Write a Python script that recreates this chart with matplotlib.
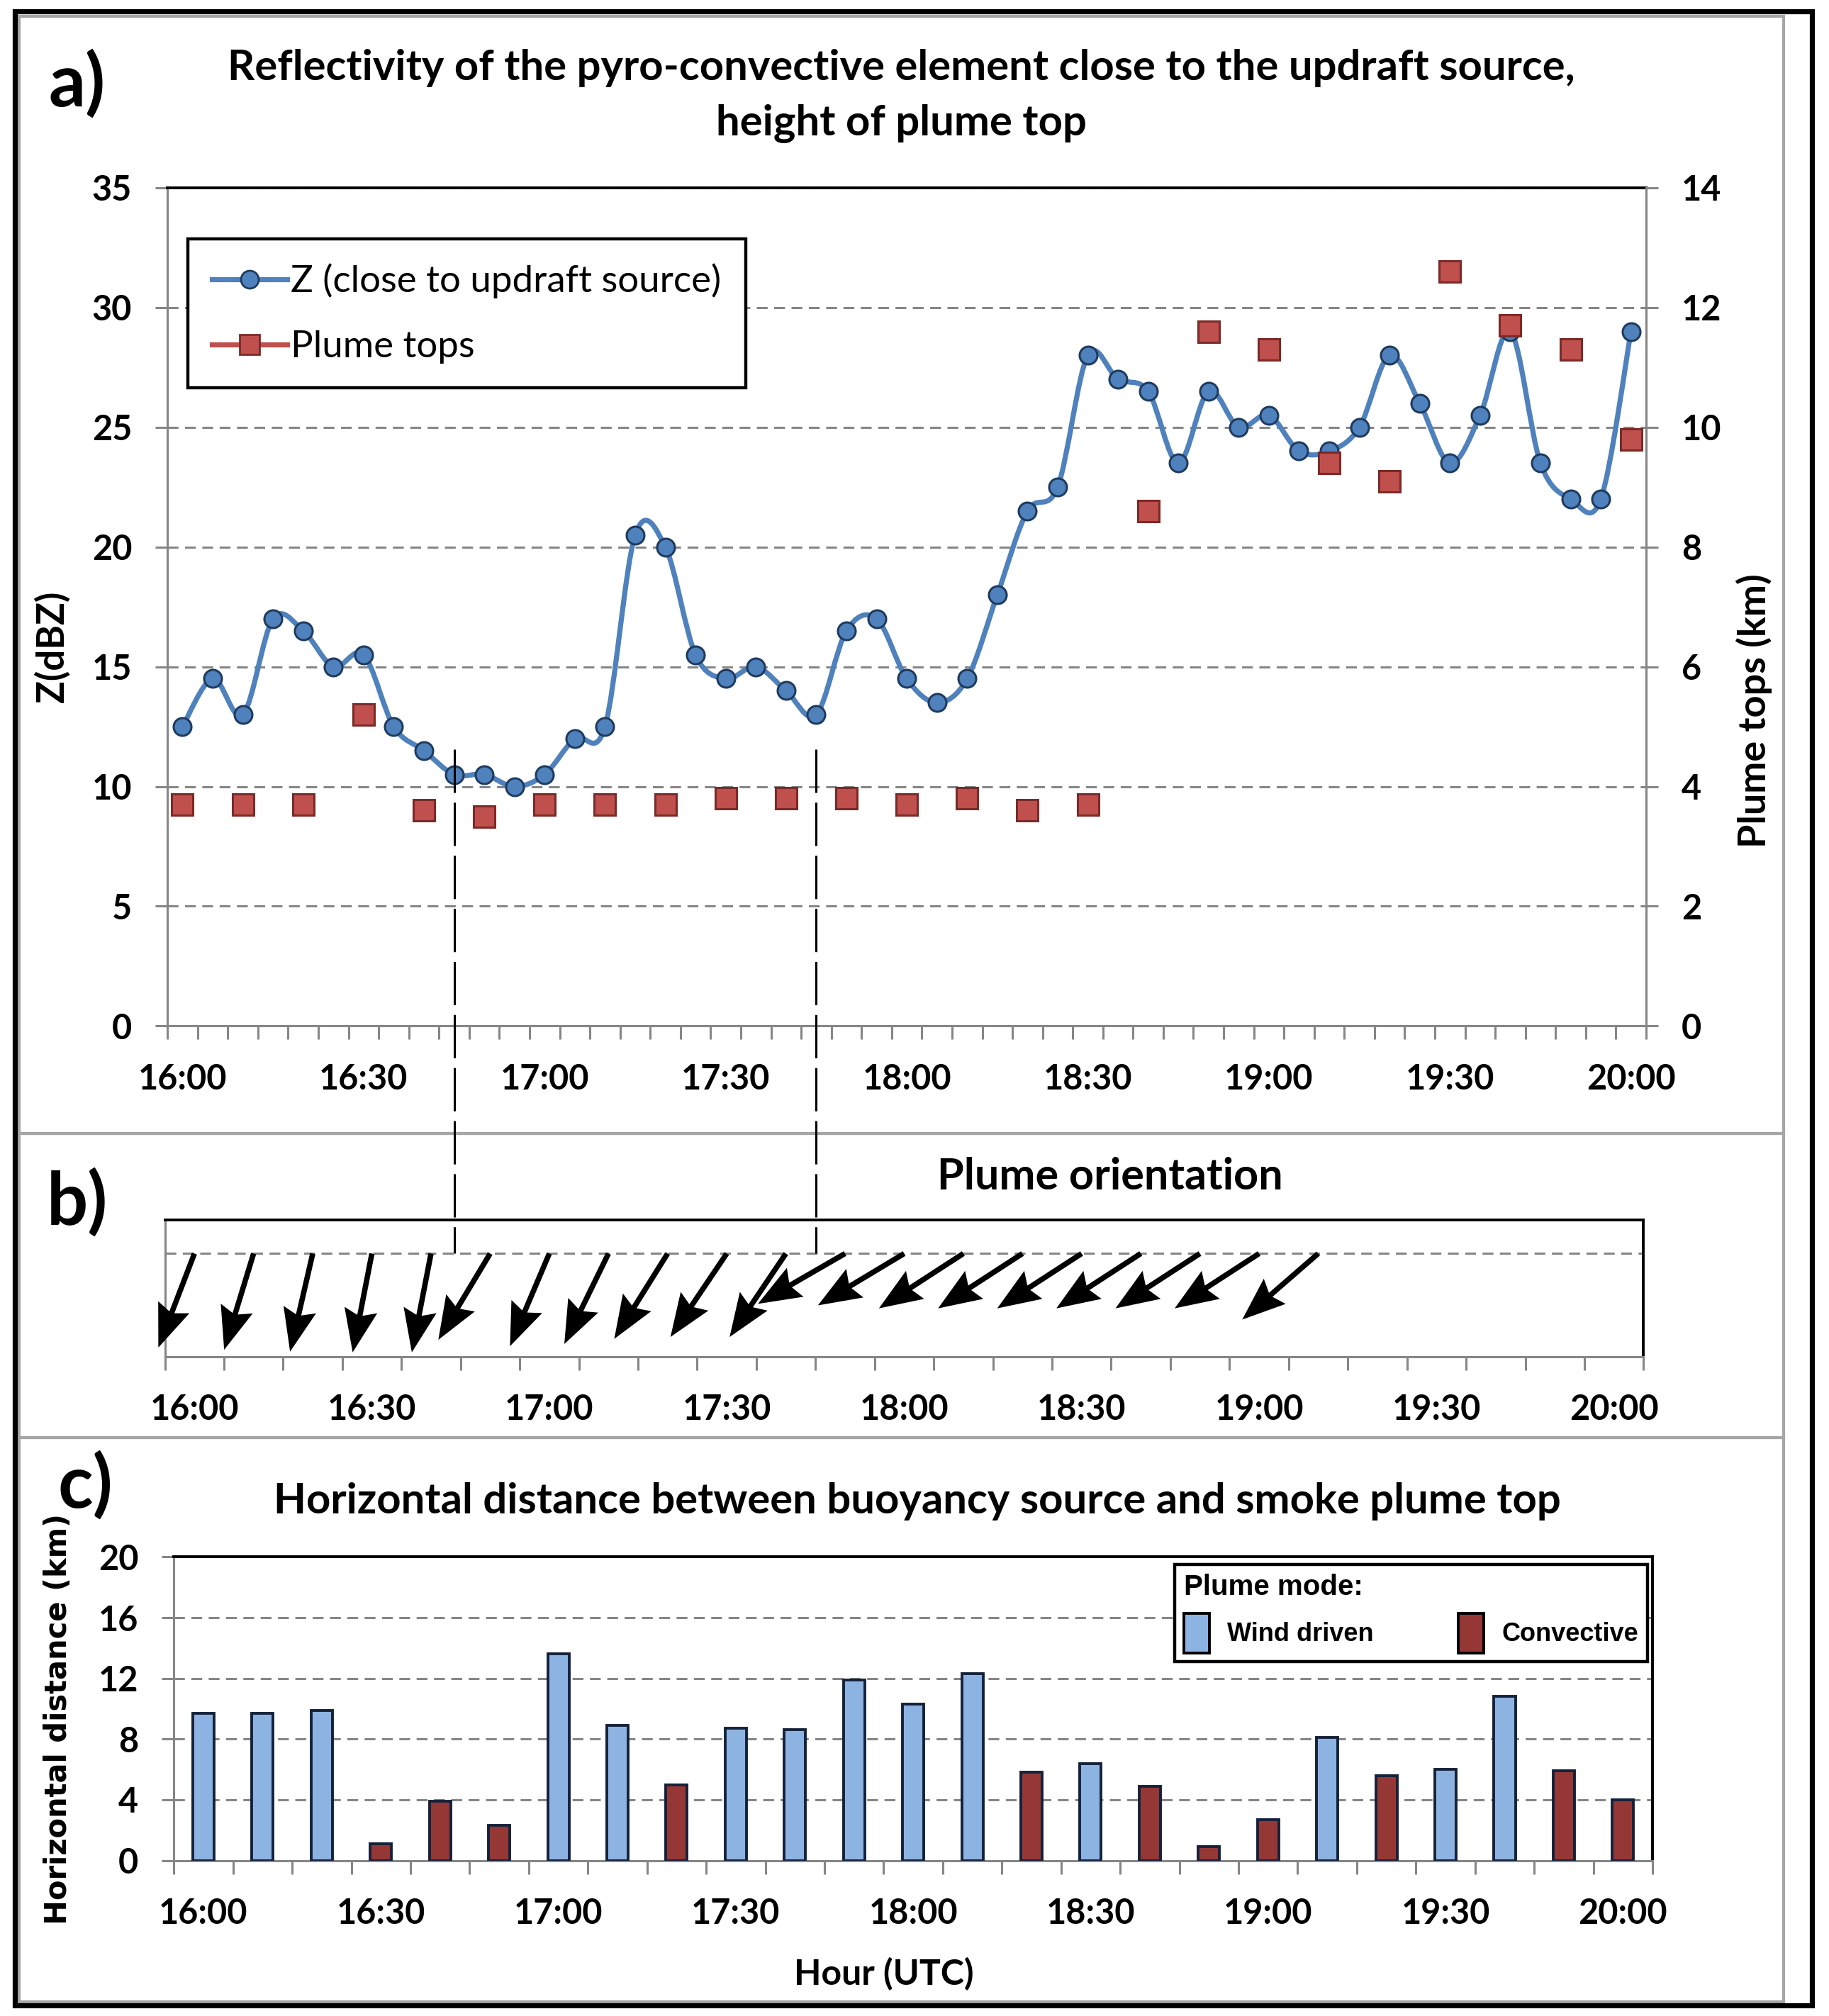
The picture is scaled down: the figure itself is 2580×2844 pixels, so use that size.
import matplotlib.pyplot as plt
import numpy as np
from matplotlib.path import Path
from matplotlib.patches import PathPatch, Rectangle, Patch
from matplotlib.lines import Line2D

plt.rcParams['font.family'] = ['Lato', 'DejaVu Sans']
plt.rcParams['font.weight'] = 'bold'

# panel a: reflectivity close to updraft source, every 5 min
times_a = ['16:00', '16:05', '16:10', '16:15', '16:20', '16:25', '16:30', '16:35',
           '16:40', '16:45', '16:50', '16:55', '17:00', '17:05', '17:10', '17:15',
           '17:20', '17:25', '17:30', '17:35', '17:40', '17:45', '17:50', '17:55',
           '18:00', '18:05', '18:10', '18:15', '18:20', '18:25', '18:30', '18:35',
           '18:40', '18:45', '18:50', '18:55', '19:00', '19:05', '19:10', '19:15',
           '19:20', '19:25', '19:30', '19:35', '19:40', '19:45', '19:50', '19:55',
           '20:00']
z_dbz = [12.5, 14.5, 13.0, 17.0, 16.5, 15.0, 15.5, 12.5,
         11.5, 10.5, 10.5, 10.0, 10.5, 12.0, 12.5, 20.5,
         20.0, 15.5, 14.5, 15.0, 14.0, 13.0, 16.5, 17.0,
         14.5, 13.5, 14.5, 18.0, 21.5, 22.5, 28.0, 27.0,
         26.5, 23.5, 26.5, 25.0, 25.5, 24.0, 24.0, 25.0,
         28.0, 26.0, 23.5, 25.5, 29.0, 23.5, 22.0, 22.0,
         29.0]

# plume tops (km), every 10 min
times_c = ['16:00', '16:10', '16:20', '16:30', '16:40', '16:50', '17:00', '17:10',
           '17:20', '17:30', '17:40', '17:50', '18:00', '18:10', '18:20', '18:30',
           '18:40', '18:50', '19:00', '19:10', '19:20', '19:30', '19:40', '19:50',
           '20:00']
plume_top_km = [3.7, 3.7, 3.7, 5.2, 3.6, 3.5, 3.7, 3.7,
                3.7, 3.8, 3.8, 3.8, 3.7, 3.8, 3.6, 3.7,
                8.6, 11.6, 11.3, 9.4, 9.1, 12.6, 11.7, 11.3,
                9.8]

# panel b: plume orientation (direction the plume points to, deg from north)
times_b = ['16:00', '16:10', '16:20', '16:30', '16:40', '16:50', '17:00', '17:10',
           '17:20', '17:30', '17:40', '17:50', '18:00', '18:10', '18:20', '18:30',
           '18:40', '18:50', '19:00', '19:10']
plume_dir_deg = [201, 197, 193, 191, 191, 211, 203, 206,
                 212, 214, 214, 240, 239, 237, 237, 237,
                 237, 237, 237, 229]

# panel c: horizontal distance buoyancy source - plume top
hdist_km = [9.7, 9.7, 9.9, 1.1, 3.9, 2.3, 13.6, 8.9,
            5.0, 8.7, 8.6, 11.9, 10.3, 12.3, 5.8, 6.4,
            4.9, 0.9, 2.7, 8.1, 5.6, 6.0, 10.8, 5.9,
            4.0]
plume_mode = ['W', 'W', 'W', 'C', 'C', 'C', 'W', 'W',
              'C', 'W', 'W', 'W', 'W', 'W', 'C', 'W',
              'C', 'C', 'C', 'W', 'C', 'W', 'W', 'C',
              'C']

blue = '#4F81BD'
navy = '#1F3B5E'
red = '#C0504D'
darkred = '#7B2A28'
wind_col = '#8DB3E2'
conv_col = '#953735'
grey = '#868686'
dash = (0, (5, 3))

# layout in reference pixels
W, H = 1420.0, 1568.0


def fx(x):
    return x / W


def fy(y):
    return 1 - y / H


def box(x0, y0, x1, y1):
    return [fx(x0), fy(y1), (x1 - x0) / W, (y1 - y0) / H]


def smooth_path(x, y):
    # Excel style smoothed line (Catmull-Rom as cubic Bezier)
    x = np.asarray(x, float)
    y = np.asarray(y, float)
    n = len(x)
    verts = [(x[0], y[0])]
    codes = [Path.MOVETO]
    for i in range(n - 1):
        a = i - 1 if i > 0 else i
        d = i + 2 if i + 2 < n else i + 1
        c1 = (x[i] + (x[i + 1] - x[a]) / 6, y[i] + (y[i + 1] - y[a]) / 6)
        c2 = (x[i + 1] - (x[d] - x[i]) / 6, y[i + 1] - (y[d] - y[i]) / 6)
        verts += [c1, c2, (x[i + 1], y[i + 1])]
        codes += [Path.CURVE4] * 3
    return Path(verts, codes)


def cat_axis(ax, labels, step):
    n = len(labels)
    ax.set_xlim(-0.5, n - 0.5)
    ax.set_xticks(np.arange(0, n, step))
    ax.set_xticklabels(labels[::step])
    ax.set_xticks(np.arange(-0.5, n), minor=True)
    ax.tick_params(axis='x', which='major', length=0, pad=19, labelsize=17.5)
    ax.tick_params(axis='x', which='minor', length=7, width=1.1, color=grey)


fig = plt.figure(figsize=(12.9, 14.22), dpi=200)

# ---------------- panel a
ax_a = fig.add_axes(box(130, 146, 1278, 798))
xa = np.arange(len(times_a))
ax_a.add_patch(PathPatch(smooth_path(xa, z_dbz), fill=False, ec=blue, lw=2.6, zorder=3))
ax_a.plot(xa, z_dbz, ls='none', marker='o', ms=9, mfc=blue, mec=navy, mew=1.1, zorder=4)
cat_axis(ax_a, times_a, 6)
ax_a.set_ylim(0, 35)
ax_a.set_yticks(range(0, 36, 5))
ax_a.tick_params(axis='y', length=6, width=1.1, color=grey, pad=12, labelsize=17.5)
ax_a.grid(axis='y', color=grey, lw=1.1, ls=dash, zorder=0)
for s in ['left', 'bottom', 'right']:
    ax_a.spines[s].set_color(grey)
    ax_a.spines[s].set_linewidth(1.1)
ax_a.spines['top'].set_color('black')
ax_a.spines['top'].set_linewidth(1.4)

ax_a2 = ax_a.twinx()
xt = [times_a.index(t) for t in times_c]
ax_a2.plot(xt, plume_top_km, ls='none', marker='s', ms=10.5, mfc=red, mec=darkred, mew=1.1, zorder=5)
ax_a2.set_ylim(0, 14)
ax_a2.set_yticks(range(0, 15, 2))
ax_a2.tick_params(axis='y', length=6, width=1.1, color=grey, pad=12, labelsize=17.5)
for s in ['left', 'bottom', 'top']:
    ax_a2.spines[s].set_visible(False)
ax_a2.spines['right'].set_color(grey)
ax_a2.spines['right'].set_linewidth(1.1)

handles = [Line2D([], [], color=blue, lw=2.6, marker='o', ms=9, mfc=blue, mec=navy),
           Line2D([], [], color=red, lw=2.6, marker='s', ms=10, mfc=red, mec=darkred)]
leg = ax_a2.legend(handles, ['Z (close to updraft source)', 'Plume tops'],
                   loc='upper left', bbox_to_anchor=(0.0139, 0.9387), borderaxespad=0,
                   prop=dict(weight='normal', size=19), frameon=True, fancybox=False,
                   edgecolor='black', framealpha=1, handlelength=2.0, handletextpad=0.1,
                   labelspacing=0.85, borderpad=0.65)
leg.get_frame().set_linewidth(1.6)

fig.text(fx(700), fy(53), 'Reflectivity of the pyro-convective element close to the updraft source,',
         ha='center', va='center', size=21.5)
fig.text(fx(700), fy(96), 'height of plume top', ha='center', va='center', size=21.5)
fig.text(fx(40), fy(503), 'Z(dBZ)', rotation=90, ha='center', va='center', size=19)
fig.text(fx(1362), fy(553), 'Plume tops (km)', rotation=90, ha='center', va='center', size=19.5)
fig.text(fx(60), fy(65), 'a)', ha='center', va='center', size=37)

# ---------------- panel b
ax_b = fig.add_axes(box(128, 949, 1276, 1055))
cat_axis(ax_b, times_c, 3)
ax_b.set_ylim(0, 1)
ax_b.set_yticks([])
y_line = 0.755
ax_b.axhline(y_line, color=grey, lw=1.1, ls=dash, zorder=1)
xb = [times_c.index(t) for t in times_b]
ang = np.radians(plume_dir_deg)
L = 0.71  # arrow length, inches
ax_b.quiver(xb, [y_line] * len(xb), L * np.sin(ang), L * np.cos(ang), angles='uv',
            scale_units='inches', scale=1, units='inches', width=0.038, headwidth=6.2,
            headlength=8.0, headaxislength=7.0, pivot='tail', color='black', zorder=3,
            clip_on=False)
for s in ['left', 'bottom']:
    ax_b.spines[s].set_color(grey)
    ax_b.spines[s].set_linewidth(1.1)
for s in ['top', 'right']:
    ax_b.spines[s].set_color('black')
    ax_b.spines[s].set_linewidth(1.4)
fig.text(fx(862), fy(915), 'Plume orientation', ha='center', va='center', size=22)
fig.text(fx(60), fy(935), 'b)', ha='center', va='center', size=37)

# ---------------- panel c
ax_c = fig.add_axes(box(135, 1211, 1283, 1447))
xc = np.arange(len(times_c))
cols = [wind_col if m == 'W' else conv_col for m in plume_mode]
ax_c.bar(xc, hdist_km, width=0.36, color=cols, edgecolor='#14213A', lw=1.4, zorder=3)
cat_axis(ax_c, times_c, 3)
ax_c.set_ylim(0, 20)
ax_c.set_yticks(range(0, 21, 4))
ax_c.tick_params(axis='y', length=6, width=1.1, color=grey, pad=12, labelsize=17.5)
ax_c.grid(axis='y', color=grey, lw=1.1, ls=dash, zorder=0)
for s in ['left', 'bottom']:
    ax_c.spines[s].set_color(grey)
    ax_c.spines[s].set_linewidth(1.1)
for s in ['top', 'right']:
    ax_c.spines[s].set_color('black')
    ax_c.spines[s].set_linewidth(1.4)
arial = ['Liberation Sans', 'DejaVu Sans']
leg_c = ax_c.legend([Patch(fc=wind_col, ec='black', lw=1.4), Patch(fc=conv_col, ec='black', lw=1.4)],
                    ['Wind driven', 'Convective'], ncol=2, title='Plume mode:',
                    loc='upper right', bbox_to_anchor=(0.9965, 0.975), borderaxespad=0,
                    prop=dict(family=arial, weight='bold', size=13),
                    title_fontproperties=dict(family=arial, weight='bold', size=14.5),
                    alignment='left', frameon=True, fancybox=False, edgecolor='black',
                    framealpha=1, handlelength=1.0, handleheight=2.0, columnspacing=3.3,
                    handletextpad=0.7, borderpad=0.35)
leg_c.get_frame().set_linewidth(1.6)
fig.text(fx(712), fy(1168), 'Horizontal distance between buoyancy source and smoke plume top',
         ha='center', va='center', size=21.5)
fig.text(fx(686), fy(1535), 'Hour (UTC)', ha='center', va='center', size=18)
fig.text(fx(45), fy(1337), 'Horizontal distance (km)', rotation=90, ha='center', va='center',
         size=15, family='DejaVu Sans')
fig.text(fx(66), fy(1155), 'c)', ha='center', va='center', size=37)

# ---------------- dashed connector lines (16:45 and 17:45)
inv = fig.transFigure.inverted()
for t in ['16:45', '17:45']:
    i = times_a.index(t)
    x0, y0 = inv.transform(ax_a.transData.transform((i, 11.54)))
    _, y1 = inv.transform(ax_b.transData.transform((0, y_line)))
    fig.add_artist(Line2D([x0, x0], [y0, y1], transform=fig.transFigure, color='black',
                          lw=1.1, ls=(0, (20, 4.5)), zorder=10))

# ---------------- frames
for y0, y1 in [(12.7, 881.5), (881.5, 1118), (1118, 1557)]:
    fig.add_artist(Rectangle((fx(14.6), fy(y1)), (1385 - 14.6) / W, (y1 - y0) / H,
                             transform=fig.transFigure, fill=False, ec='#A6A6A6', lw=1.5))
fig.add_artist(Rectangle((fx(11.4), fy(1560)), (1407 - 11.4) / W, (1560 - 8.9) / H,
                         transform=fig.transFigure, fill=False, ec='black', lw=2.6))

fig.savefig('out.png', dpi=200)
